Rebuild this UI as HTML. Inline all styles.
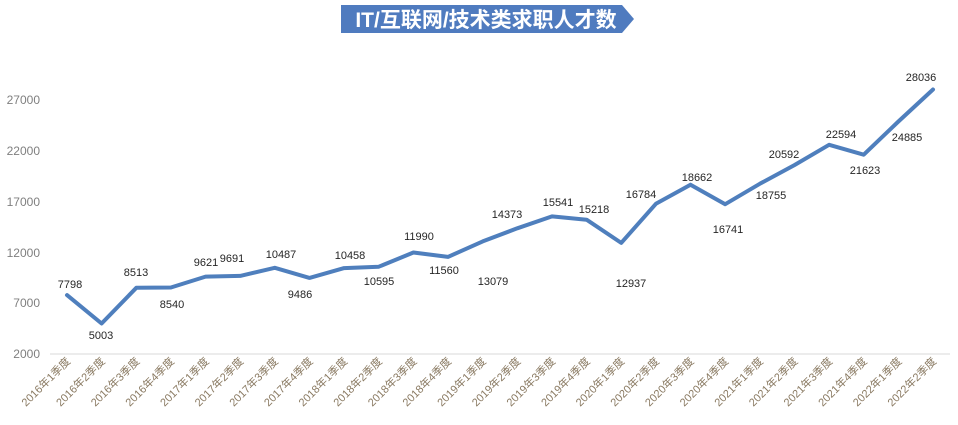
<!DOCTYPE html>
<html><head><meta charset="utf-8"><style>
html,body{margin:0;padding:0;background:#fff;}
svg{display:block;font-family:"Liberation Sans","Noto Sans CJK SC",sans-serif;}
</style></head><body>
<svg width="958" height="425" viewBox="0 0 958 425">
<polygon points="341,5 622,5 634,19 622,33 341,33" fill="#4f7bbf"/>
<text x="486" y="27" text-anchor="middle" font-size="21" font-weight="bold" fill="#fff">IT/互联网/技术类求职人才数</text>
<line x1="50" y1="354" x2="950" y2="354" stroke="#d9d9d9" stroke-width="1"/>
<g font-size="12" fill="#7f7f7f" text-anchor="end">
<text x="40" y="358">2000</text><text x="40" y="307">7000</text><text x="40" y="257">12000</text>
<text x="40" y="206">17000</text><text x="40" y="155">22000</text><text x="40" y="104">27000</text>
</g>
<polyline fill="none" stroke="#4f7fbd" stroke-width="4" stroke-linejoin="round" stroke-linecap="round" points="
67,295.1 101.6,323.5 136.3,287.8 170.9,287.5 205.6,276.6 240.2,275.9 274.8,267.8 309.5,277.9 344.1,268.1 378.8,266.7 413.4,252.5 448,256.9 482.7,241.4 517.3,228.3 552,216.4 586.6,219.7 621.2,242.9 655.9,203.8 690.5,184.7 725.2,204.2 759.8,183.8 794.4,165.1 829.1,144.8 863.7,154.7 898.4,121.5 933,89.5"/>
<g font-size="11" fill="#262626" text-anchor="middle">
<text x="70" y="288">7798</text><text x="101" y="339">5003</text><text x="136" y="276">8513</text>
<text x="172" y="308">8540</text><text x="206" y="266">9621</text><text x="232" y="262">9691</text>
<text x="281" y="258">10487</text><text x="300" y="298">9486</text><text x="350" y="259">10458</text>
<text x="379" y="285">10595</text><text x="419" y="240">11990</text><text x="444" y="274">11560</text>
<text x="493" y="285">13079</text><text x="507" y="218">14373</text><text x="558" y="206">15541</text>
<text x="594" y="213">15218</text><text x="631" y="287">12937</text><text x="641" y="198">16784</text>
<text x="697" y="181">18662</text><text x="728" y="233">16741</text><text x="771" y="199">18755</text>
<text x="784" y="158">20592</text><text x="841" y="138">22594</text><text x="865" y="174">21623</text>
<text x="907" y="141">24885</text><text x="921" y="81">28036</text>
</g>
<g font-size="11" fill="#8a7a62" text-anchor="end">
<text transform="translate(71,362) rotate(-45)">2016年1季度</text>
<text transform="translate(105.6,362) rotate(-45)">2016年2季度</text>
<text transform="translate(140.3,362) rotate(-45)">2016年3季度</text>
<text transform="translate(174.9,362) rotate(-45)">2016年4季度</text>
<text transform="translate(209.6,362) rotate(-45)">2017年1季度</text>
<text transform="translate(244.2,362) rotate(-45)">2017年2季度</text>
<text transform="translate(278.8,362) rotate(-45)">2017年3季度</text>
<text transform="translate(313.5,362) rotate(-45)">2017年4季度</text>
<text transform="translate(348.1,362) rotate(-45)">2018年1季度</text>
<text transform="translate(382.8,362) rotate(-45)">2018年2季度</text>
<text transform="translate(417.4,362) rotate(-45)">2018年3季度</text>
<text transform="translate(452,362) rotate(-45)">2018年4季度</text>
<text transform="translate(486.7,362) rotate(-45)">2019年1季度</text>
<text transform="translate(521.3,362) rotate(-45)">2019年2季度</text>
<text transform="translate(556,362) rotate(-45)">2019年3季度</text>
<text transform="translate(590.6,362) rotate(-45)">2019年4季度</text>
<text transform="translate(625.2,362) rotate(-45)">2020年1季度</text>
<text transform="translate(659.9,362) rotate(-45)">2020年2季度</text>
<text transform="translate(694.5,362) rotate(-45)">2020年3季度</text>
<text transform="translate(729.2,362) rotate(-45)">2020年4季度</text>
<text transform="translate(763.8,362) rotate(-45)">2021年1季度</text>
<text transform="translate(798.4,362) rotate(-45)">2021年2季度</text>
<text transform="translate(833.1,362) rotate(-45)">2021年3季度</text>
<text transform="translate(867.7,362) rotate(-45)">2021年4季度</text>
<text transform="translate(902.4,362) rotate(-45)">2022年1季度</text>
<text transform="translate(937,362) rotate(-45)">2022年2季度</text>
</g>
</svg>
</body></html>
